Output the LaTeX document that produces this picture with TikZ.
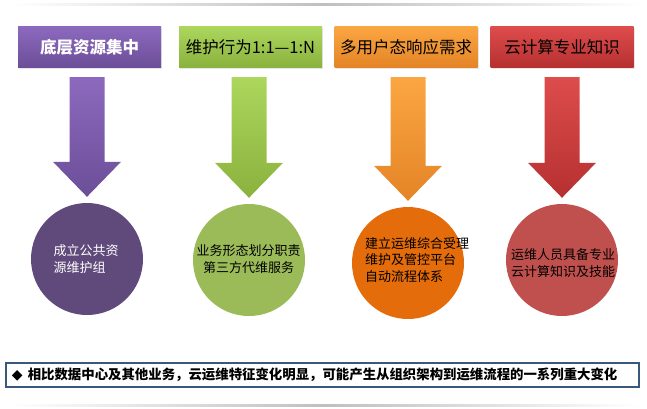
\documentclass[tikz,border=0pt]{standalone}
\usepackage{fontspec}
\newfontfamily\cjk{Noto Sans CJK SC}
\newfontfamily\sym{DejaVu Sans}
\usetikzlibrary{calc,shadows}
\definecolor{purpletop}{RGB}{140,105,190}
\definecolor{purplebot}{RGB}{108,78,152}
\definecolor{purpledisc}{RGB}{96,74,123}
\definecolor{greentop}{RGB}{172,214,92}
\definecolor{greenbot}{RGB}{138,178,62}
\definecolor{greendisc}{RGB}{155,187,89}
\definecolor{orangetop}{RGB}{251,166,66}
\definecolor{orangebot}{RGB}{228,132,38}
\definecolor{orangedisc}{RGB}{228,108,10}
\definecolor{redtop}{RGB}{222,76,76}
\definecolor{redbot}{RGB}{182,48,48}
\definecolor{reddisc}{RGB}{192,80,77}
\definecolor{noteedge}{RGB}{58,88,124}
\tikzset{
  every picture/.style={font=\cjk},
  head/.style={minimum width=143pt, minimum height=41pt, inner sep=0pt,
    drop shadow={opacity=0.2, shadow xshift=1pt, shadow yshift=-1.5pt},
    font=\cjk\fontsize{16.5}{20}\selectfont},
  disc/.style={circle, minimum size=112pt, inner sep=0pt},
  disctext/.style={font=\cjk\fontsize{13}{16.5}\selectfont, inner sep=0pt},
  notebox/.style={draw=noteedge, line width=1.5pt, fill=white, text width=621pt,
    inner xsep=6pt, minimum height=24pt, align=left,
    font=\cjk\bfseries\fontsize{13.4}{16}\selectfont},
  rim/.style={left color=white, right color=white, middle color=black!25},
}
% block arrow from a heading box down to its disc
\newcommand{\downblock}[4]{%
  \shade[top color=#3, bottom color=#4]
    let \p1=(#2.north), \p2=(#1.south) in
    (\x1-17.5pt,\y2-9.5pt) -- (\x1+17.5pt,\y2-9.5pt) -- (\x1+17.5pt,\y1+41pt)
    -- (\x1+34pt,\y1+41pt) -- (\x1,\y1+6pt) -- (\x1-34pt,\y1+41pt)
    -- (\x1-17.5pt,\y1+41pt) -- cycle;}
\begin{document}
\begin{tikzpicture}[x=1pt,y=-1pt]
  \useasboundingbox (0,0) rectangle (647,409);
  % faint rules at top and bottom
  \shade[rim] (10,4) rectangle (640,6);
  \shade[rim] (10,404) rectangle (640,406);
  % headings
  \node[head, top color=purpletop, bottom color=purplebot, text=white,
    font=\cjk\bfseries\fontsize{16.5}{20}\selectfont] (b1) at (89.5,47) {底层资源集中};
  \node[head, top color=greentop, bottom color=greenbot] (b2) at (250.5,47) {维护行为1:1—1:N};
  \node[head, top color=orangetop, bottom color=orangebot] (b3) at (406,47) {多用户态响应需求};
  \node[head, top color=redtop, bottom color=redbot] (b4) at (562,47) {云计算专业知识};
  % discs
  \node[disc, fill=purpledisc] (c1) at (87,259) {};
  \node[disc, fill=greendisc] (c2) at (249,260) {};
  \node[disc, fill=orangedisc] (c3) at (408,263) {};
  \node[disc, fill=reddisc] (c4) at (562,260) {};
  \node[disctext, text=white, align=left] (t1) at (86,259) {成立公共资\\源维护组};
  \node[disctext, align=center] (t2) at (248.5,259) {业务形态划分职责\\第三方代维服务};
  \node[disctext, align=left] (t3) at (417,260) {建立运维综合受理\\维护及管控平台\\自动流程体系};
  \node[disctext, align=center] (t4) at (563,263) {运维人员具备专业\\云计算知识及技能};
  % arrows
  \downblock{b1}{c1}{purpletop}{purplebot}
  \downblock{b2}{c2}{greentop}{greenbot}
  \downblock{b3}{c3}{orangetop}{orangebot}
  \downblock{b4}{c4}{redtop}{redbot}
  % summary line
  \node[notebox] (note) at (322.5,375)
    {{\sym\fontsize{14}{16}\selectfont ◆}\hspace{5pt}相比数据中心及其他业务，云运维特征变化明显，可能产生从组织架构到运维流程的一系列重大变化};
\end{tikzpicture}
\end{document}
